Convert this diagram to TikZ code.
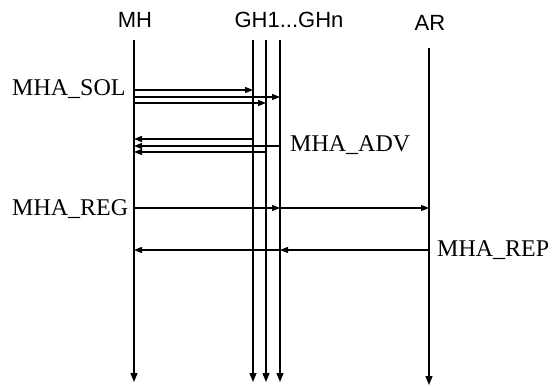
\documentclass[tikz,border=0pt]{standalone}
\usepackage{fontspec}
\setmainfont{Liberation Serif}
\setsansfont{Liberation Sans}
\usetikzlibrary{arrows.meta}
\begin{document}
\begin{tikzpicture}[x=1pt,y=-1pt,
  lifeline/.style={line width=1.3pt,-{Triangle[length=9pt,width=7pt]}},
  msg/.style={line width=1.1pt,-{Triangle[length=8pt,width=6pt]}},
  head/.style={font=\sffamily\fontsize{22}{22}\selectfont,inner sep=0pt},
  lbl/.style={font=\fontsize{24}{24}\selectfont,inner sep=0pt}]
\useasboundingbox (0,0) rectangle (559,386);
% headings
\node[head,anchor=base] (hmh) at (135,27) {MH};
\node[head,anchor=base] (hgh) at (289,27) {GH1...GHn};
\node[head,anchor=base] (har) at (430,30) {AR};
% lifeline ends
\coordinate (mhtop) at (134,40);  \coordinate (mhbot) at (134,382);
\coordinate (g1top) at (253,40);  \coordinate (g1bot) at (253,382);
\coordinate (g2top) at (266,40);  \coordinate (g2bot) at (266,382);
\coordinate (g3top) at (280,40);  \coordinate (g3bot) at (280,382);
\coordinate (artop) at (429,48);  \coordinate (arbot) at (429,385);
\draw[lifeline] (mhtop) -- (mhbot);
\draw[lifeline] (g1top) -- (g1bot);
\draw[lifeline] (g2top) -- (g2bot);
\draw[lifeline] (g3top) -- (g3bot);
\draw[lifeline] (artop) -- (arbot);
% message heights
\coordinate (s1) at (0,90);
\coordinate (s2) at (0,97);
\coordinate (s3) at (0,103);
\coordinate (a1) at (0,139);
\coordinate (a2) at (0,146);
\coordinate (a3) at (0,152);
\coordinate (rg) at (0,208);
\coordinate (rp) at (0,250);
% MHA_SOL
\draw[msg] (mhtop |- s1) -- (g1top |- s1);
\draw[msg] (mhtop |- s2) -- (g3top |- s2);
\draw[msg] (mhtop |- s3) -- (g2top |- s3);
% MHA_ADV
\draw[msg] (g1top |- a1) -- (mhtop |- a1);
\draw[msg] (g3top |- a2) -- (mhtop |- a2);
\draw[msg] (g2top |- a3) -- (mhtop |- a3);
% MHA_REG
\draw[msg] (mhtop |- rg) -- (g3top |- rg);
\draw[msg] (g3top |- rg) -- (artop |- rg);
% MHA_REP
\draw[msg] (artop |- rp) -- (g3top |- rp);
\draw[msg] (g3top |- rp) -- (mhtop |- rp);
% labels
\node[lbl,anchor=base west] (lsol) at (12,95) {MHA\_SOL};
\node[lbl,anchor=base west] (ladv) at (290,151) {MHA\_ADV};
\node[lbl,anchor=base west] (lreg) at (12,215) {MHA\_REG};
\node[lbl,anchor=base west] (lrep) at (437,256) {MHA\_REP};
\end{tikzpicture}
\end{document}
